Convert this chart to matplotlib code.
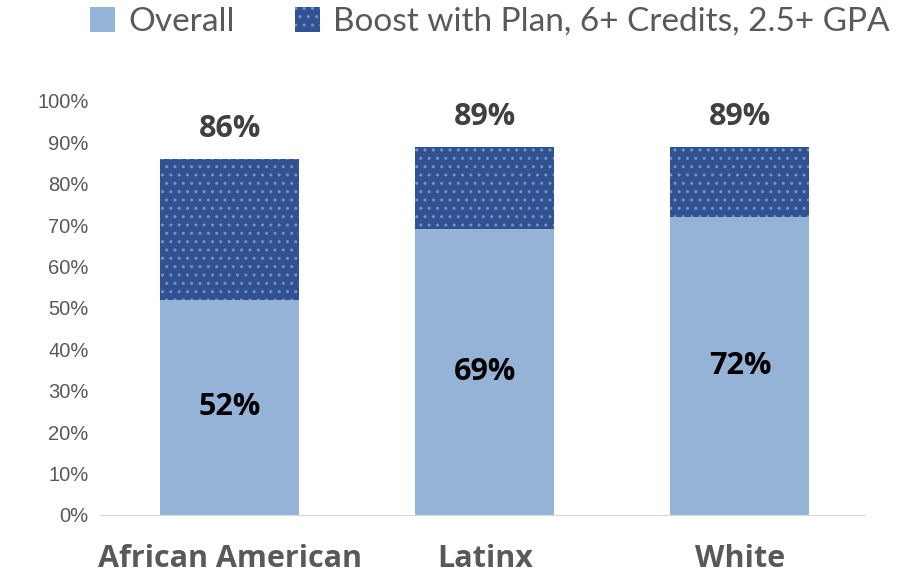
import matplotlib.pyplot as plt
from matplotlib.patches import Patch
import matplotlib as mpl

# values
groups = ["African American", "Latinx", "White"]
overall = [52, 69, 72]
with_boost = [86, 89, 89]
boost = [b - o for b, o in zip(with_boost, overall)]
yticks = list(range(0, 101, 10))

light = "#95B3D7"
dark = "#33508F"
dots = "#6498D8"

mpl.rcParams["hatch.linewidth"] = 1.0
mpl.rcParams["hatch.color"] = dots

fig = plt.figure(figsize=(8.99, 5.77), dpi=100)
ax = fig.add_axes([0.111, 0.1075, 0.851, 0.7175])

x = range(len(groups))
ax.bar(x, overall, width=0.545, color=light, linewidth=0)
ax.bar(x, boost, bottom=overall, width=0.545, color=dark,
       hatch="..", edgecolor=dots, linewidth=0)

for i in x:
    ax.text(i, overall[i] / 2, f"{overall[i]}%", ha="center", va="center",
            fontsize=22, fontweight="bold", family="Open Sans", color="black")
    ax.text(i, with_boost[i] + 3.5, f"{with_boost[i]}%", ha="center", va="bottom",
            fontsize=22, fontweight="bold", family="Open Sans", color="#404040")

ax.set_xlim(-0.51, 2.49)
ax.set_ylim(0, 100)
ax.set_yticks(yticks)
ax.set_yticklabels([f"{t}%" for t in yticks], fontsize=14.5,
                   family="Liberation Sans", color="#595959")
ax.set_xticks(list(x))
ax.set_xticklabels(groups, fontsize=22, fontweight="bold", family="Open Sans",
                   color="#595959")
ax.tick_params(axis="y", length=0, pad=8)
ax.tick_params(axis="x", length=0, pad=21)
for s in ["top", "right", "left"]:
    ax.spines[s].set_visible(False)
ax.spines["bottom"].set_color("#D9D9D9")

handles = [Patch(facecolor=light, linewidth=0),
           Patch(facecolor=dark, hatch="..", edgecolor=dots, linewidth=0)]
fig.legend(handles, ["Overall", "Boost with Plan, 6+ Credits, 2.5+ GPA"],
           loc="upper center", bbox_to_anchor=(0.545, 1.04), ncol=2, frameon=False,
           prop={"family": "Lato", "size": 24}, labelcolor="#595959",
           handlelength=0.75, handleheight=0.75, handletextpad=0.4, columnspacing=1.8)

fig.savefig("out.png", dpi=100)
